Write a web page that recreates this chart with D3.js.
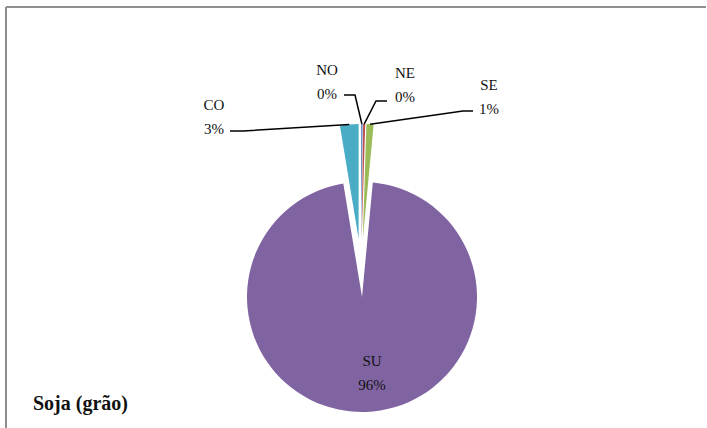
<!DOCTYPE html>
<html>
<head>
<meta charset="utf-8">
<script src="https://cdn.jsdelivr.net/npm/d3@7"></script>
<style>
  html, body { margin: 0; padding: 0; background: #fff; }
  svg { display: block; }
</style>
</head>
<body>
<svg id="chart" width="707" height="428"></svg>
<script>
// data
var regions = ["NO", "NE", "SE", "SU", "CO"];
var shares = [0.2, 0.3, 1.0, 95.9, 2.6];
var percentLabels = ["0%", "0%", "1%", "96%", "3%"];
var sliceColors = ["#4F81BD", "#C0504D", "#9BBB59", "#8064A2", "#4BACC6"];

var svg = d3.select("#chart");
var W = 707, H = 428;
var cx = 361, cy = 268, radius = 115, explode = 29;

// frame
svg.append("line").attr("x1", 6).attr("y1", 7).attr("x2", 706).attr("y2", 7)
  .attr("stroke", "#8e8e8e").attr("stroke-width", 2);
svg.append("line").attr("x1", 6).attr("y1", 7).attr("x2", 6).attr("y2", H)
  .attr("stroke", "#8e8e8e").attr("stroke-width", 2);

var pie = d3.pie().sort(null).value(function(d) { return d; });
var arcs = pie(shares);
var arc = d3.arc().innerRadius(0).outerRadius(radius);

function pointAt(angle, r) {
  return [r * Math.sin(angle), -r * Math.cos(angle)];
}

var g = svg.append("g").attr("transform", "translate(" + cx + "," + cy + ")");

arcs.forEach(function(a, i) {
  var mid = (a.startAngle + a.endAngle) / 2;
  var off = pointAt(mid, explode);
  a.off = off;
  a.mid = mid;
  g.append("path")
    .attr("d", arc(a))
    .attr("transform", "translate(" + off[0] + "," + off[1] + ")")
    .attr("fill", sliceColors[i]);
});

// label layout (outside labels with leader lines, SU inside)
var layout = {
  NO: { x: 327, y: 75, elbow: [[355, 95], [344, 95]] },
  NE: { x: 405, y: 78, elbow: [[376, 101], [387, 101]] },
  SE: { x: 489, y: 90, elbow: [[463, 111], [473, 111]] },
  CO: { x: 214, y: 110, elbow: [[243, 131], [230, 131]] },
  SU: { x: 372, y: 366 }
};

var font = "'Liberation Serif', 'Times New Roman', serif";

arcs.forEach(function(a, i) {
  var name = regions[i];
  var L = layout[name];
  if (L.elbow) {
    var tip = pointAt(a.mid, radius);
    var start = [cx + a.off[0] + tip[0], cy + a.off[1] + tip[1]];
    var pts = [start].concat(L.elbow);
    svg.append("path")
      .attr("d", d3.line()(pts))
      .attr("fill", "none")
      .attr("stroke", "#000")
      .attr("stroke-width", 1.5);
  }
  var t = svg.append("text")
    .attr("x", L.x).attr("y", L.y)
    .attr("text-anchor", "middle")
    .attr("font-family", font)
    .attr("font-size", 15)
    .attr("fill", "#111");
  t.append("tspan").attr("x", L.x).text(name);
  t.append("tspan").attr("x", L.x).attr("dy", 24).text(percentLabels[i]);
});

// title
svg.append("text")
  .attr("x", 33).attr("y", 410)
  .attr("font-family", font)
  .attr("font-weight", "bold")
  .attr("font-size", 20)
  .attr("fill", "#111")
  .text("Soja (grão)");
</script>
</body>
</html>
